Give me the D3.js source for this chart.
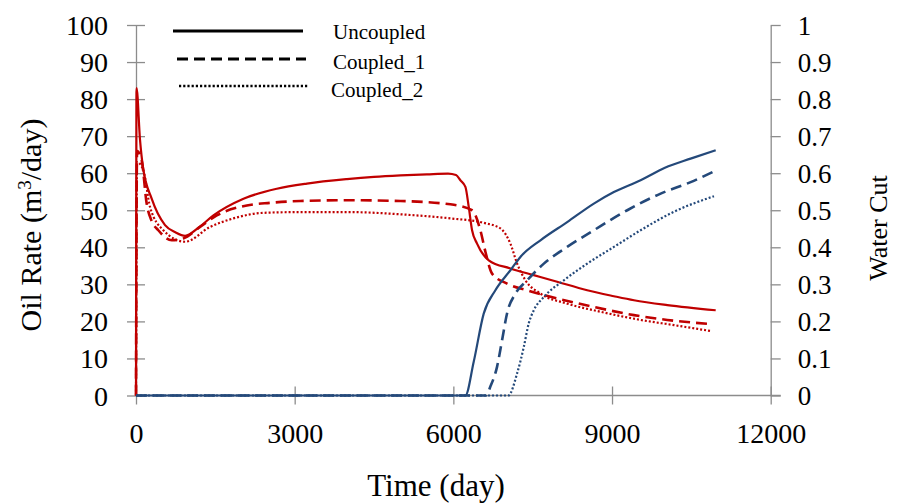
<!DOCTYPE html>
<html>
<head>
<meta charset="utf-8">
<script src="https://cdn.jsdelivr.net/npm/d3@7/dist/d3.min.js"></script>
<style>
  html, body { margin: 0; padding: 0; background: #fff; }
  svg { display: block; }
  text { font-family: "Liberation Serif", "Times New Roman", serif; fill: #000; }
</style>
</head>
<body>
<svg id="chart" width="897" height="504"></svg>
<script>
// Oil rate (m3/day) versus time (day) for the three runs
const oilUncoupledT = [0, 10, 76, 132, 300, 549, 750, 928, 1200, 1464, 2032, 2663, 3230, 3988, 4500, 5000, 5500, 5900, 6050, 6133, 6228, 6291, 6354, 6448, 6669, 7078, 7520, 7962, 8531, 9035, 9414, 10045, 10960];
const oilUncoupled  = [0, 83, 69, 61.6, 53, 46, 44, 43.1, 45.5, 48.6, 53.1, 55.8, 57.2, 58.4, 59, 59.4, 59.7, 59.9, 59.5, 58.1, 56.3, 50.9, 44.6, 41.0, 36.5, 34.3, 32.5, 30.7, 28.4, 26.8, 25.7, 24.4, 23.0];

const oilCoupled1T = [0, 20, 107, 202, 300, 422, 676, 895, 1211, 1527, 2095, 2536, 3104, 4050, 5000, 5944, 6354, 6511, 6606, 6732, 7016, 7395, 7962, 8656, 9414, 10045, 10850];
const oilCoupled1  = [0, 66, 63.5, 51.8, 47, 44.6, 41.9, 42.4, 45.5, 48.6, 51.3, 52.0, 52.5, 52.7, 52.5, 51.6, 50.0, 44.6, 38.8, 32.9, 30.2, 28.4, 26.2, 23.9, 21.7, 20.4, 19.3];

const oilCoupled2T = [0, 20, 139, 265, 517, 928, 1401, 1842, 2410, 3104, 4050, 5000, 5944, 6574, 6890, 7078, 7206, 7363, 7647, 8152, 8783, 9540, 10172, 10865];
const oilCoupled2  = [0, 63, 60.8, 50.9, 44.6, 41.5, 45.5, 47.8, 49.3, 49.5, 49.5, 48.9, 47.8, 46.6, 45.1, 41.0, 35.6, 31.1, 27.5, 24.8, 22.6, 20.4, 19.0, 17.4];

// Water cut (fraction) versus time (day)
const wcUncoupledT = [0, 6228, 6385, 6574, 6795, 7079, 7268, 7647, 8152, 8656, 9035, 9540, 10000, 10500, 10960];
const wcUncoupled  = [0, 0, 0.091, 0.221, 0.284, 0.338, 0.374, 0.419, 0.468, 0.518, 0.549, 0.581, 0.615, 0.640, 0.662];

const wcCoupled1T = [0, 6620, 6700, 6827, 6922, 7016, 7174, 7395, 7711, 8152, 8656, 9288, 9919, 10487, 10960];
const wcCoupled1  = [0, 0, 0.024, 0.078, 0.150, 0.222, 0.275, 0.311, 0.356, 0.401, 0.446, 0.500, 0.545, 0.576, 0.607];

const wcCoupled2T = [0, 7040, 7206, 7332, 7426, 7521, 7711, 8089, 8531, 9035, 9540, 10172, 10928];
const wcCoupled2  = [0, 0, 0.060, 0.131, 0.195, 0.230, 0.266, 0.311, 0.356, 0.401, 0.446, 0.496, 0.538];

// Axis ticks and legend entries
const timeTicks = [0, 3000, 6000, 9000, 12000];
const oilTicks = [0, 10, 20, 30, 40, 50, 60, 70, 80, 90, 100];
const wcTicks = [0, 0.1, 0.2, 0.3, 0.4, 0.5, 0.6, 0.7, 0.8, 0.9, 1];
const legendLabels = ["Uncoupled", "Coupled_1", "Coupled_2"];

const RED = "#C00000";
const BLUE = "#24497A";
const AXIS = "#8c8c8c";

const svg = d3.select("#chart");

const x = d3.scaleLinear().domain([0, 12000]).range([136, 770.7]);
const yL = d3.scaleLinear().domain([0, 100]).range([395.5, 25]);
const yR = d3.scaleLinear().domain([0, 1]).range([395.5, 25]);

// Line styles per run: solid, dashed, dotted
const styles = [
  { dash: null, width: 2.2 },
  { dash: "11,6", width: 2.6 },
  { dash: "2,2", width: 2.2 }
];

// Left axis (oil rate), ticks crossing the axis line
const gL = svg.append("g").attr("transform", "translate(136,0)")
  .call(d3.axisLeft(yL).tickValues(oilTicks).tickSize(9).tickSizeOuter(0).tickPadding(0));
gL.select(".domain").attr("stroke", AXIS).attr("stroke-width", 1.3);
gL.selectAll(".tick line").attr("stroke", AXIS).attr("stroke-width", 1.3).attr("x1", 9).attr("x2", -9);
gL.selectAll(".tick text").attr("x", -28).attr("dy", "0.34em")
  .style("font-size", "28px").style("font-family", "'Liberation Serif', serif").attr("fill", "#000");

// Right axis (water cut), outward ticks
const gR = svg.append("g").attr("transform", "translate(770.7,0)")
  .call(d3.axisRight(yR).tickValues(wcTicks).tickFormat(d3.format("~g")).tickSize(10).tickSizeOuter(0).tickPadding(0));
gR.select(".domain").attr("stroke", AXIS).attr("stroke-width", 1.3);
gR.selectAll(".tick line").attr("stroke", AXIS).attr("stroke-width", 1.3);
gR.selectAll(".tick text").attr("x", 27).attr("dy", "0.34em")
  .style("font-size", "27px").style("font-family", "'Liberation Serif', serif").attr("fill", "#000");

// Bottom axis (time), ticks crossing the axis line
const gB = svg.append("g").attr("transform", "translate(0,395.5)")
  .call(d3.axisBottom(x).tickValues(timeTicks).tickFormat(d3.format("d")).tickSize(9).tickSizeOuter(0).tickPadding(0));
gB.select(".domain").attr("stroke", AXIS).attr("stroke-width", 1.3)
  .attr("d", `M136,0H${x(12000) + 10}`);
gB.selectAll(".tick line").attr("stroke", AXIS).attr("stroke-width", 1.3).attr("y1", -9).attr("y2", 9);
gB.selectAll(".tick text").attr("y", 47).attr("dy", 0)
  .style("font-size", "28px").style("font-family", "'Liberation Serif', serif").attr("fill", "#000");

// Curves
const oilLine = d3.line().x(d => x(d[0])).y(d => yL(d[1])).curve(d3.curveMonotoneX);
const wcLine = d3.line().x(d => x(d[0])).y(d => yR(d[1])).curve(d3.curveMonotoneX);

const oilSeries = [
  d3.zip(oilUncoupledT, oilUncoupled),
  d3.zip(oilCoupled1T, oilCoupled1),
  d3.zip(oilCoupled2T, oilCoupled2)
];
const wcSeries = [
  d3.zip(wcUncoupledT, wcUncoupled),
  d3.zip(wcCoupled1T, wcCoupled1),
  d3.zip(wcCoupled2T, wcCoupled2)
];

const plot = svg.append("g");
oilSeries.forEach((s, i) => {
  plot.append("path").datum(s).attr("d", oilLine)
    .attr("fill", "none").attr("stroke", RED)
    .attr("stroke-width", styles[i].width)
    .attr("stroke-dasharray", styles[i].dash);
});
wcSeries.slice().reverse().forEach((s, k) => {
  const i = 2 - k;
  plot.append("path").datum(s).attr("d", wcLine)
    .attr("fill", "none").attr("stroke", BLUE)
    .attr("stroke-width", styles[i].width)
    .attr("stroke-dasharray", styles[i].dash);
});

// Legend
const legendRows = [
  { x1: 173, x2: 303, y: 31, tx: 333, ty: 32, w: 3 },
  { x1: 177, x2: 306, y: 59, tx: 333, ty: 62, w: 3 },
  { x1: 179, x2: 308, y: 86, tx: 331, ty: 90, w: 2.5 }
];
const legend = svg.append("g");
legendLabels.forEach((label, i) => {
  const r = legendRows[i];
  legend.append("line")
    .attr("x1", r.x1).attr("x2", r.x2).attr("y1", r.y).attr("y2", r.y)
    .attr("stroke", "#000").attr("stroke-width", r.w)
    .attr("stroke-dasharray", i === 0 ? null : (i === 1 ? "11,6" : "2.2,2"));
  legend.append("text")
    .attr("x", r.tx).attr("y", r.ty).attr("dy", "0.34em")
    .style("font-size", "21px").text(label);
});

// Axis titles
svg.append("text")
  .attr("transform", "translate(41,225) rotate(-90)")
  .attr("text-anchor", "middle")
  .style("font-size", "30px")
  .call(t => {
    t.append("tspan").text("Oil Rate  (m");
    t.append("tspan").attr("baseline-shift", "super").style("font-size", "19px").text("3");
    t.append("tspan").text("/day)");
  });

svg.append("text")
  .attr("x", 436).attr("y", 496)
  .attr("text-anchor", "middle")
  .style("font-size", "31px")
  .text("Time (day)");

svg.append("text")
  .attr("transform", "translate(887,228) rotate(-90)")
  .attr("text-anchor", "middle")
  .style("font-size", "26px")
  .text("Water  Cut");
</script>
</body>
</html>
